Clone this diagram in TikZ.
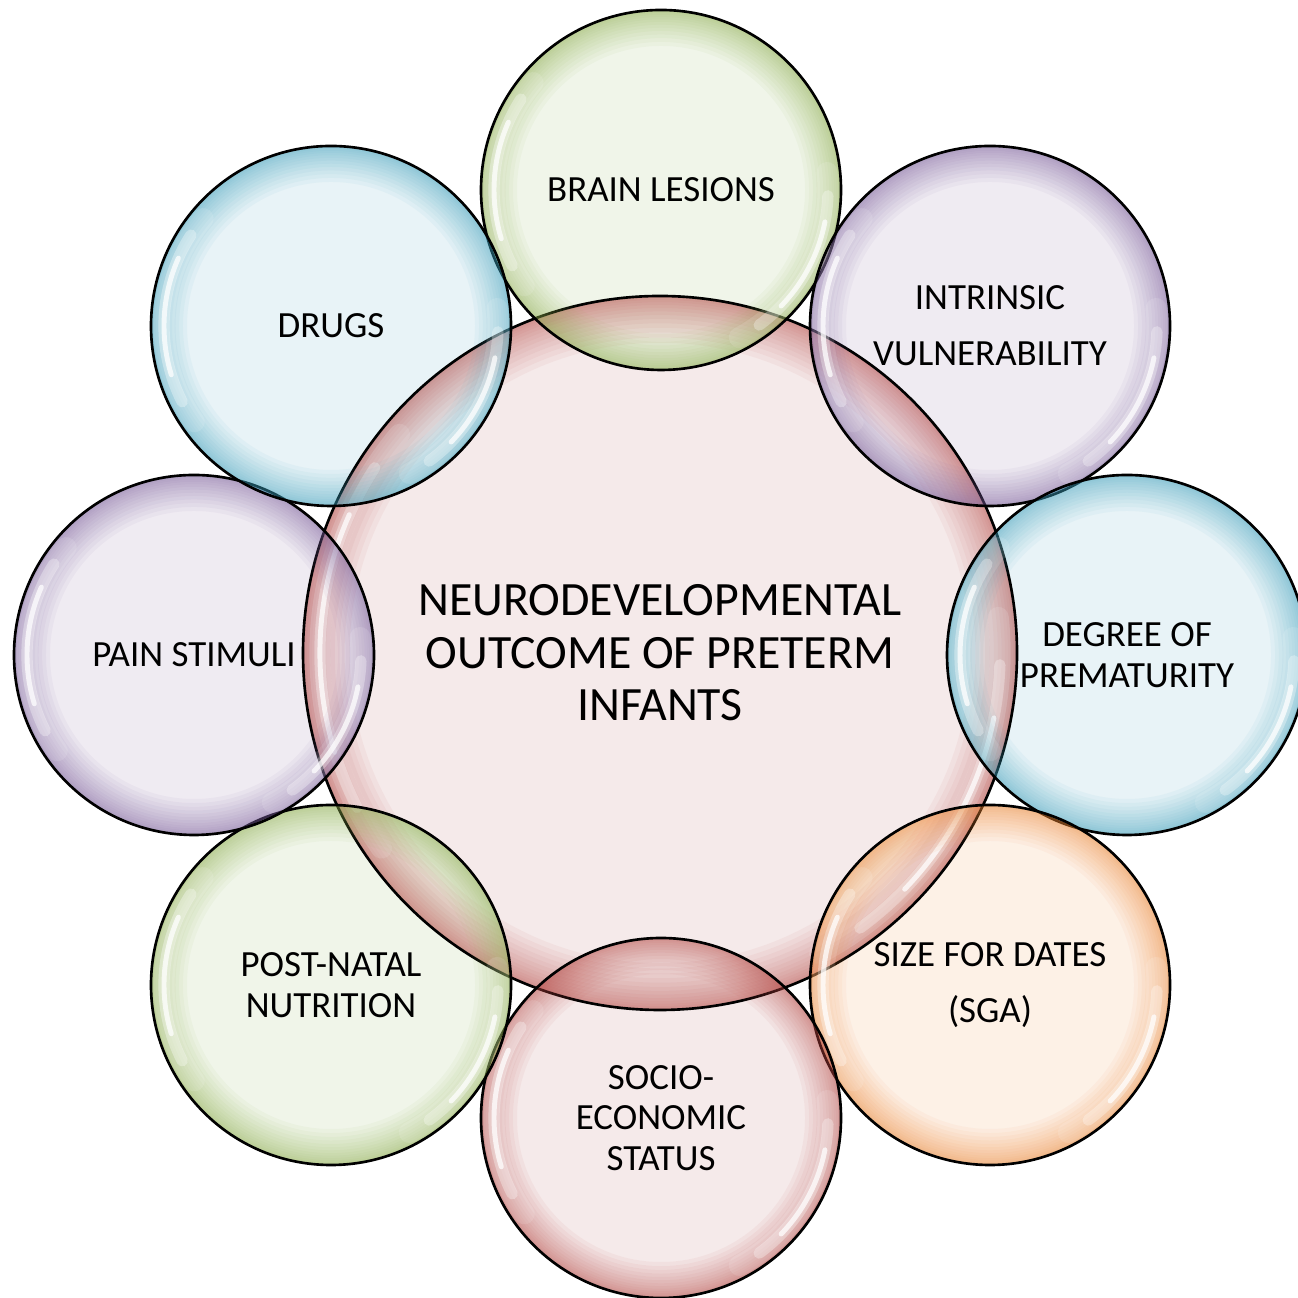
\documentclass[tikz,border=0pt]{standalone}
\usepackage{fontspec}
\setmainfont{Carlito}

% bubble colours: light tint for the body, saturated tone for the rim
\definecolor{grnT}{HTML}{EBF2E2}\definecolor{grnE}{HTML}{8FB04E}
\definecolor{purT}{HTML}{EAE4EE}\definecolor{purE}{HTML}{7A5E9C}
\definecolor{bluT}{HTML}{E0EFF4}\definecolor{bluE}{HTML}{3FA3BE}
\definecolor{redT}{HTML}{F2E3E3}\definecolor{redE}{HTML}{B84844}
\definecolor{ornT}{HTML}{FCECDE}\definecolor{ornE}{HTML}{F08A38}

\tikzset{
  bub/.style={circle, minimum size=3.6cm, inner sep=0pt, fill=#1,
    fill opacity=0.75, text opacity=1, align=center,
    font=\fontsize{10.5}{11.6}\selectfont},
  hub/.style={circle, minimum size=7.14cm, inner sep=0pt, fill=redT,
    fill opacity=0.75, text opacity=1, align=center,
    font=\fontsize{13.6}{14.9}\selectfont},
  widelines/.style={font=\fontsize{10.5}{16}\selectfont},
  rim/.style={draw=black, line width=0.75pt},
  gloss/.style={draw=white, line cap=round},
}

\begin{document}
\begin{tikzpicture}[x=0.01cm, y=0.01cm]
  \useasboundingbox (0,0) rectangle (1297,1298);

  % central outcome bubble
  \node[hub] (hub) at (660,645)
    {NEURODEVELOPMENTAL\\OUTCOME OF PRETERM\\INFANTS};

  % surrounding factor bubbles
  \node[bub=grnT] (brain)  at (661,1108) {BRAIN LESIONS};
  \node[bub=purT, widelines] (intr) at (990,972) {INTRINSIC\\VULNERABILITY};
  \node[bub=bluT] (degree) at (1127,643) {DEGREE OF\\PREMATURITY};
  \node[bub=ornT, widelines] (size) at (990,313) {SIZE FOR DATES\\(SGA)};
  \node[bub=redT] (socio)  at (661,180) {SOCIO-\\ECONOMIC\\STATUS};
  \node[bub=grnT] (post)   at (331,313) {POST-NATAL\\NUTRITION};
  \node[bub=purT] (pain)   at (194,643) {PAIN STIMULI};
  \node[bub=bluT] (drugs)  at (331,972) {DRUGS};

  % coloured rims fading inwards, glossy streaks and outlines
  \foreach \n/\r/\c/\s in {hub/357/redE/1.3, brain/180/grnE/1, intr/180/purE/1,
      degree/180/bluE/1, size/180/ornE/1, socio/180/redE/1,
      post/180/grnE/1, pain/180/purE/1, drugs/180/bluE/1} {
    % stacked rings sharing the outer edge give a soft gradient
    \foreach \k in {1,...,14} {
      \pgfmathsetmacro\w{36*\s*(\k/14)^1.6}
      \draw[\c, opacity=0.055, line width={\w*0.01cm}]
        (\n.center) circle[radius={\r-\w/2}];
    }
    % upper-left streak
    \draw[gloss, line width=6pt, opacity=0.12]
      ([shift={(140:{\r-13*\s})}]\n.center) arc[start angle=140, end angle=215, radius={\r-13*\s}];
    \draw[gloss, line width=3.2pt, opacity=0.3]
      ([shift={(147:{\r-13*\s})}]\n.center) arc[start angle=147, end angle=207, radius={\r-13*\s}];
    \draw[gloss, line width=1.4pt, opacity=0.75]
      ([shift={(156:{\r-13*\s})}]\n.center) arc[start angle=156, end angle=197, radius={\r-13*\s}];
    % lower-right streak
    \draw[gloss, line width=6pt, opacity=0.12]
      ([shift={(6:{\r-13*\s})}]\n.center) arc[start angle=6, end angle=-62, radius={\r-13*\s}];
    \draw[gloss, line width=3.2pt, opacity=0.3]
      ([shift={(-2:{\r-13*\s})}]\n.center) arc[start angle=-2, end angle=-54, radius={\r-13*\s}];
    \draw[gloss, line width=1.4pt, opacity=0.75]
      ([shift={(-11:{\r-13*\s})}]\n.center) arc[start angle=-11, end angle=-44, radius={\r-13*\s}];
    \draw[rim] (\n.center) circle[radius=\r];
  }
\end{tikzpicture}
\end{document}
